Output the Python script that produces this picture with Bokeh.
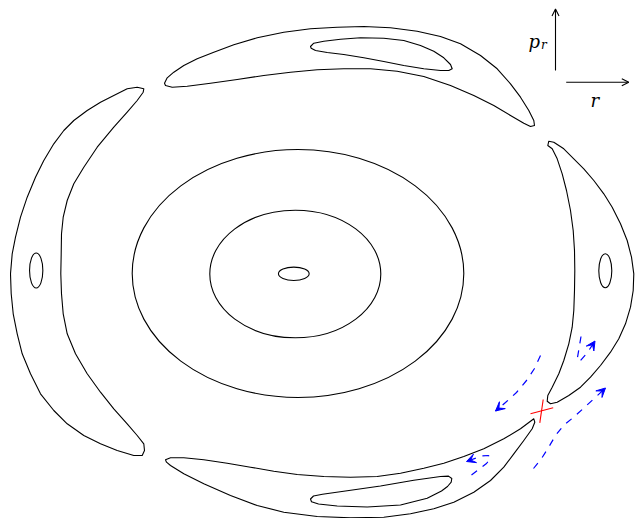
from bokeh.plotting import figure
from bokeh.models import Range1d, Arrow, VeeHead, OpenHead, Label
from bokeh.embed import file_html
from bokeh.resources import INLINE

# ---- closed level curves (reference picture coordinates, y downwards) ----
left_crescent = [
    (143.3, 88.3), (136.7, 86.7), (126.7, 88.3), (113.3, 95), (100, 101.7), (86.7, 110),
    (73.3, 120), (63.3, 130), (53.3, 143.3), (43.3, 160), (35, 176.7), (26.7, 196.7),
    (20, 216.7), (15, 236.7), (11.7, 253.3), (10, 273.3), (10.7, 293.3), (12.7, 313.3),
    (16.7, 333.3), (21.7, 353.3), (30, 373.3), (40, 393.3), (53.3, 410), (66.7, 423.3),
    (83.3, 435), (100, 443.3), (116.7, 450), (133.3, 455), (141.7, 455), (144, 450),
    (143.3, 443.3), (136.7, 435), (126.7, 423.3), (113.3, 408.3), (100, 391.7),
    (86.7, 373.3), (75, 353.3), (66.7, 333.3), (62.7, 313.3), (61, 293.3), (60.3, 273.3),
    (60.7, 253.3), (61, 233.3), (62.7, 216.7), (66.7, 200), (73.3, 183.3), (83.3, 166.7),
    (96.7, 146.7), (113.3, 126.7), (126.7, 111.7), (136.7, 100), (142.7, 91.7),
]
right_crescent = [
    (548.3, 140.7), (553.3, 141.7), (563.3, 148.3), (573.3, 158.3), (583.3, 168.3),
    (593.3, 180), (603.3, 193.3), (611.7, 206.7), (620, 223.3), (626.7, 240),
    (631, 256.7), (633.3, 273.3), (632.7, 290), (630, 306.7), (625, 323.3),
    (618.3, 338.3), (610, 351.7), (600, 365), (590, 376.7), (580, 386.7), (568.3, 395),
    (556.7, 401.7), (550, 403.3), (546.7, 400.7), (547.3, 395), (551.7, 386.7),
    (558.3, 373.3), (563.3, 360), (568.3, 343.3), (571.7, 326.7), (573.3, 310),
    (574, 290), (574.3, 270), (574, 250), (572.7, 230), (570, 210), (566, 190),
    (561.7, 173.3), (556.7, 158.3), (551.7, 148.3), (547.3, 145),
]
top_crescent = [
    (164, 82.7), (166.7, 77.3), (173.3, 71.7), (183.3, 65), (196.7, 58.3), (213.3, 51.7),
    (233.3, 44.3), (256.7, 37.3), (283.3, 31.7), (310, 28.3), (336.7, 26.7), (363.3, 26),
    (390, 27.3), (416.7, 30.7), (440, 36), (460, 43.3), (480, 55), (496.7, 68.3),
    (510, 83.3), (520, 96.7), (528.3, 110), (533.3, 120), (534, 125), (530, 126),
    (523.3, 122.7), (510, 115), (493.3, 105), (473.3, 95), (450, 85), (423.3, 76),
    (396.7, 70.7), (370, 68.3), (343.3, 68.3), (316.7, 69.3), (290, 71.7), (263.3, 75),
    (236.7, 79), (210, 82.7), (186.7, 85.7), (171.7, 86.7), (165, 85),
]
top_inner_loop = [
    (310, 46), (313.3, 42.7), (323.3, 40.7), (340, 38.7), (360, 37.3), (383.3, 37.7),
    (403.3, 40), (420, 45), (433.3, 50.7), (443.3, 57.3), (450, 64), (451.7, 68.3),
    (448.3, 70), (440, 70), (423.3, 68.3), (403.3, 65), (383.3, 61), (363.3, 57.3),
    (343.3, 54), (326.7, 52), (315, 50), (310.7, 47.7),
]
bottom_crescent = [
    (165, 459.3), (170, 457.3), (183.3, 457.3), (203.3, 459.3), (226.7, 462.7),
    (250, 466.7), (273.3, 470.7), (296.7, 474), (323.3, 476), (350, 476.7),
    (376.7, 476), (400, 472.7), (423.3, 467.7), (443.3, 462.7), (463.3, 456),
    (483.3, 448.3), (503.3, 438.3), (520, 428.3), (530, 420.7), (533.3, 418.3),
    (534.3, 421.7), (531.7, 428.3), (523.3, 440), (513.3, 453.3), (503.3, 466.7),
    (490, 480), (473.3, 491.7), (453.3, 501.7), (433.3, 508.3), (410, 513.3),
    (383.3, 516.7), (350, 517.3), (316.7, 516), (283.3, 511.7), (256.7, 505),
    (230, 495), (203.3, 483.3), (183.3, 473.3), (170, 465), (166, 461.7),
]
bottom_inner_loop = [
    (310, 498.5), (313, 495.5), (322, 493.8), (346.7, 490.2), (380, 485.5),
    (413.3, 479.8), (440, 476), (448, 475.6), (451.3, 478), (450.7, 481.7),
    (447, 486), (441, 490.5), (426.7, 497.8), (400, 504.5), (366.7, 506.5),
    (336.7, 505.5), (318, 503.5), (311, 501.2),
]

# ---- elliptic level curves: centre x, centre y, width, height ----
ell_x = [297.5, 294.8, 293.3, 35.7, 604.8]
ell_y = [273.0, 273.5, 273.3, 270.0, 270.3]
ell_w = [331.6, 171.0, 30.7, 13.3, 13.0]
ell_h = [248.0, 127.6, 13.3, 35.0, 34.0]

# ---- blue dashed flow arrows (paths end at the arrow tip) ----
flow_paths = [
    [(540, 355), (534, 368), (526, 380), (516, 392), (505, 402), (495, 410.5)],
    [(533, 468), (541, 458), (548, 447), (555, 435), (563, 425), (574, 416), (586, 405), (597, 395), (605, 387.5)],
    [(580.5, 336), (578.5, 348), (576.5, 360), (580, 360), (587, 352), (594.5, 340.5)],
    [(471, 474.5), (478, 469), (486, 463), (490, 458), (488, 455), (481, 455.5), (466, 461)],
]

# ---- red saddle cross ----
cross_x = [[530, 552.7], [542.7, 539.3]]
cross_y = [[413.3, 407.3], [399, 422.3]]

# ---- coordinate indicator ----
axis_arrows = [((555, 70), (555, 8.5)), ((565.7, 81.7), (628.3, 81.7))]

p = figure(width=639, height=518, x_range=Range1d(0, 639), y_range=Range1d(518, 0),
           output_backend="svg", toolbar_location=None, min_border=0,
           x_axis_location=None, y_axis_location=None)
p.grid.visible = False
p.outline_line_color = None

for curve in [left_crescent, right_crescent, top_crescent, top_inner_loop,
              bottom_crescent, bottom_inner_loop]:
    xs = [pt[0] for pt in curve]
    ys = [pt[1] for pt in curve]
    p.patch(xs, ys, fill_color=None, line_color="black", line_width=1.1,
            line_join="round")

p.ellipse(ell_x, ell_y, width=ell_w, height=ell_h, fill_color=None,
          line_color="black", line_width=1.1)

for path in flow_paths:
    xs = [pt[0] for pt in path]
    ys = [pt[1] for pt in path]
    p.line(xs, ys, line_color="blue", line_dash="7 7", line_width=1.2)
    p.add_layout(Arrow(end=VeeHead(size=9, fill_color="blue", line_color="blue", line_width=1),
                       x_start=xs[-2], y_start=ys[-2], x_end=xs[-1], y_end=ys[-1],
                       line_alpha=0))

p.multi_line(cross_x, cross_y, line_color="red", line_width=1.1)

for (a, b) in axis_arrows:
    p.add_layout(Arrow(end=OpenHead(size=7, line_width=1.1, line_color="black"),
                       x_start=a[0], y_start=a[1], x_end=b[0], y_end=b[1],
                       line_color="black", line_width=1.1))

p.add_layout(Label(x=528, y=41, text="p", text_font="DejaVu Serif",
                   text_font_style="italic", text_font_size="18px", text_color="black",
                   text_baseline="alphabetic"))
p.add_layout(Label(x=540.5, y=44, text="r", text_font="DejaVu Serif",
                   text_font_style="italic", text_font_size="12px", text_color="black",
                   text_baseline="alphabetic"))
p.add_layout(Label(x=590, y=100, text="r", text_font="DejaVu Serif",
                   text_font_style="italic", text_font_size="18px", text_color="black",
                   text_baseline="alphabetic"))

open("out.html", "w").write(file_html(p, INLINE))
